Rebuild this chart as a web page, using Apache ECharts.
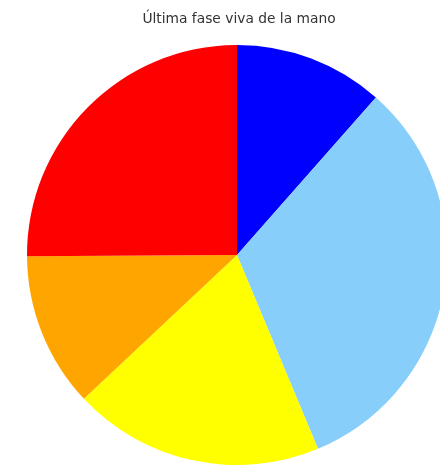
<!DOCTYPE html>
<html><head><meta charset="utf-8">
<script src="https://cdn.jsdelivr.net/npm/echarts@6/dist/echarts.min.js"></script>
<style>html,body{margin:0;padding:0;background:#fff}#c{width:440px;height:467px}</style>
</head><body><div id="c"></div>
<script>
var categories = ['Preflop', 'Flop', 'Turn', 'River', 'Showdown'];
var values = [11.5, 32.2, 19.3, 11.9, 25.1];
var colors = ['#0000ff', '#87cefa', '#ffff00', '#ffa500', '#ff0000'];
var chart = echarts.init(document.getElementById('c'));
chart.setOption({
  animation: false,
  backgroundColor: '#fff',
  title: {
    text: 'Última fase viva de la mano',
    left: 234, top: 7, textAlign: 'center',
    textStyle: {fontFamily: 'DejaVu Sans', fontSize: 13.8, fontWeight: 'normal', color: '#333'}
  },
  series: [{
    type: 'pie',
    center: [237, 255],
    radius: 210,
    startAngle: 90,
    clockwise: true,
    label: {show: false},
    labelLine: {show: false},
    emphasis: {disabled: true},
    itemStyle: {borderWidth: 0},
    data: categories.map(function (c, i) {
      return {name: c, value: values[i], itemStyle: {color: colors[i]}};
    })
  }]
});
</script></body></html>
